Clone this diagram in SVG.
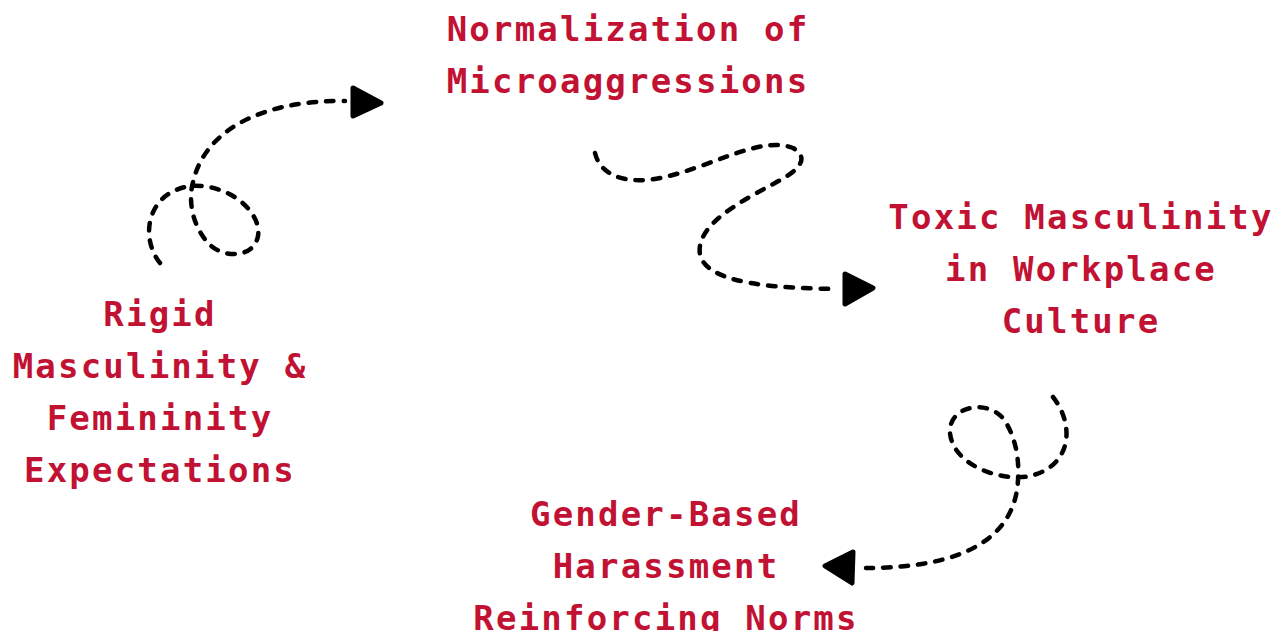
<svg xmlns="http://www.w3.org/2000/svg" width="1278" height="631" viewBox="0 0 1278 631">
<style>
.lbl{font-family:"DejaVu Sans Mono","Liberation Mono",monospace;font-weight:bold;font-size:34px;letter-spacing:2.2px;fill:#c11233;text-anchor:middle}
.conn{fill:none;stroke:#000;stroke-width:4.5;stroke-dasharray:7.5 10;stroke-linecap:round}
.head{fill:#000;stroke:#000;stroke-width:5;stroke-linejoin:round}
</style>
<rect width="1278" height="631" fill="#fff"/>
<g id="connectors">
<path class="conn" d="M160,263 C140,238 146,193 190,186 C230,183 262,213 258,236 C254,258 224,259 209,244 C192,226 188,200 193,182 C205,130 262,100 345,101"/>
<polygon class="head" points="353,88 381,103 353,116"/>
<path class="conn" d="M595,153 C600,175 625,185 660,178 C710,168 760,135 793,148 C810,158 800,170 775,183 C740,202 695,225 700,255 C708,285 780,288 835,289"/>
<polygon class="head" points="845,274 873,288 845,304"/>
<path class="conn" d="M1053,397 C1075,425 1072,466 1030,476 C1000,482 953,465 950,433 C948,405 990,398 1005,421 C1018,442 1019,465 1018,480 C1015,540 960,568 866,568"/>
<polygon class="head" points="853,552 825,566 852,583"/>
</g>
<g id="node-normalization">
<text class="lbl" x="628" y="41">Normalization of</text>
<text class="lbl" x="628" y="93">Microaggressions</text>
</g>
<g id="node-toxic">
<text class="lbl" x="1081" y="229">Toxic Masculinity</text>
<text class="lbl" x="1081" y="281">in Workplace</text>
<text class="lbl" x="1081" y="333">Culture</text>
</g>
<g id="node-rigid">
<text class="lbl" x="160" y="326">Rigid</text>
<text class="lbl" x="160" y="378">Masculinity &amp;</text>
<text class="lbl" x="160" y="430">Femininity</text>
<text class="lbl" x="160" y="482">Expectations</text>
</g>
<g id="node-harassment">
<text class="lbl" x="666" y="526">Gender-Based</text>
<text class="lbl" x="666" y="578">Harassment</text>
<text class="lbl" x="666" y="630">Reinforcing Norms</text>
</g>
</svg>
